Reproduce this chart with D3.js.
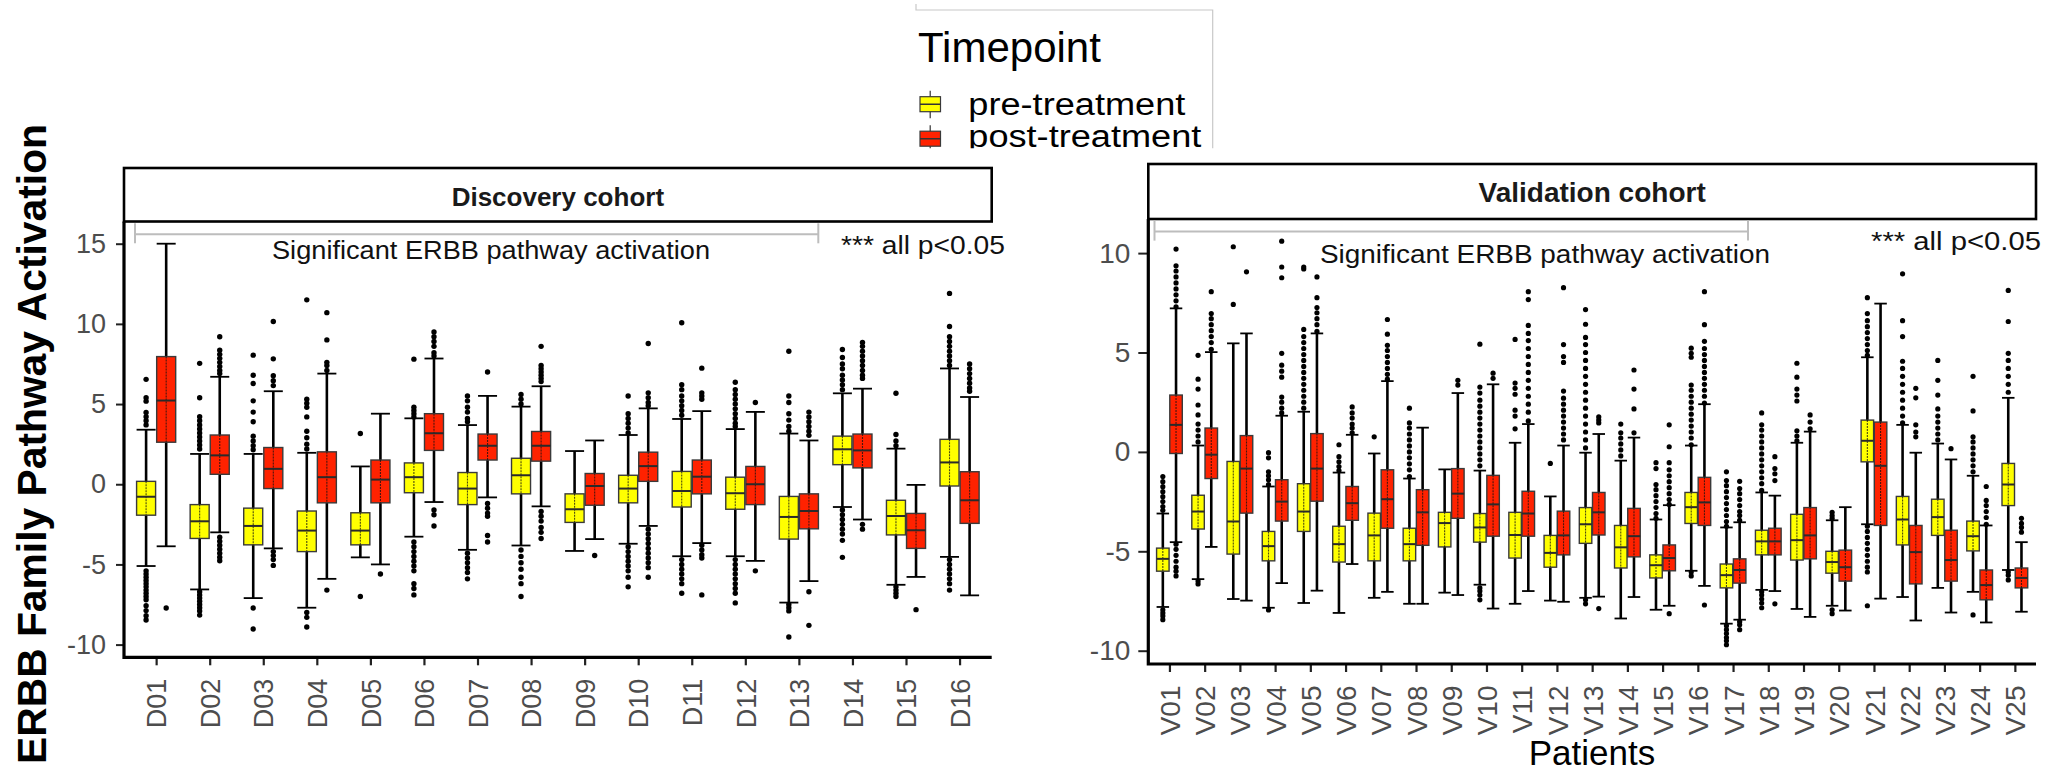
<!DOCTYPE html>
<html>
<head>
<meta charset="utf-8">
<script src="https://cdn.jsdelivr.net/npm/d3@7"></script>
<style>
  html, body { margin: 0; padding: 0; background: #fff; }
  svg { display: block; font-family: "Liberation Sans", Arial, Helvetica, sans-serif; }
</style>
</head>
<body>
<svg id="chart" width="2047" height="774"></svg>
<script>
// ---------- categories & tick labels ----------
const discCats = ["D01","D02","D03","D04","D05","D06","D07","D08","D09","D10","D11","D12","D13","D14","D15","D16"];
const valCats = ["V01","V02","V03","V04","V05","V06","V07","V08","V09","V10","V11","V12","V13",
                 "V14","V15","V16","V17","V18","V19","V20","V21","V22","V23","V24","V25"];
const discYTicks = [-10, -5, 0, 5, 10, 15];
const valYTicks = [-10, -5, 0, 5, 10];
const timepoints = ["pre-treatment", "post-treatment"];

// ---------- box statistics: [whisker low, Q1, median, Q3, whisker high] ----------
const discPre = [
  [-5.1,-1.93,-0.78,0.18,3.4], [-6.56,-3.38,-2.31,-1.27,1.89], [-7.1,-3.78,-2.6,-1.49,1.89],
  [-7.7,-4.2,-2.89,-1.67,1.96], [-4.56,-3.78,-2.89,-1.78,1.11], [-3.27,-0.53,0.44,1.33,4.11],
  [-4.09,-1.27,-0.27,0.73,3.69], [-3.82,-0.6,0.56,1.62,4.84], [-4.16,-2.38,-1.56,-0.6,2.07],
  [-3.71,-1.16,-0.27,0.56,3.07], [-4.49,-1.42,-0.42,0.8,4.07], [-4.49,-1.56,-0.56,0.44,3.44],
  [-7.38,-3.42,-2.04,-0.76,3.16], [-1.42,1.22,2.18,3.0,5.67], [-6.27,-3.16,-1.98,-1.0,2.22],
  [-4.53,-0.11,1.36,2.8,7.22]
];
const discPost = [
  [-3.87,2.62,5.22,7.96,15.0], [-3.0,0.62,1.8,3.07,6.7], [-4.0,-0.27,0.96,2.29,5.8],
  [-5.9,-1.16,0.44,2.02,6.9], [-5.0,-1.16,0.29,1.51,4.4], [-1.11,2.11,3.18,4.4,7.84],
  [-0.82,1.51,2.4,3.13,5.51], [-1.38,1.44,2.4,3.29,6.11], [-3.42,-1.31,-0.11,0.67,2.73],
  [-2.6,0.18,1.13,2.0,4.73], [-3.67,-0.6,0.47,1.51,4.56], [-4.78,-1.27,0.0,1.11,4.51],
  [-6.04,-2.78,-1.67,-0.6,2.73], [-2.2,1.02,2.11,3.13,5.96], [-5.78,-4.0,-2.87,-1.82,-0.04],
  [-6.93,-2.44,-1.0,0.78,5.44]
];
const valPre = [
  [-7.8,-6.0,-5.38,-4.84,-3.1], [-6.4,-3.88,-3.0,-2.18,0.32], [-7.4,-5.14,-3.5,-0.48,5.46],
  [-7.84,-5.48,-4.74,-4.0,-1.74], [-7.6,-4.0,-3.0,-1.6,2.02], [-8.1,-5.54,-4.64,-3.74,-1.04],
  [-7.34,-5.48,-4.2,-3.08,-0.08], [-7.64,-5.48,-4.64,-3.84,-1.34], [-7.08,-4.78,-3.58,-3.04,-0.88],
  [-6.68,-4.54,-3.8,-3.1,-0.94], [-7.64,-5.34,-4.18,-3.04,0.46], [-7.48,-5.8,-5.08,-4.2,-2.24],
  [-7.34,-4.6,-3.64,-2.8,-0.04], [-8.38,-5.84,-4.8,-3.7,-0.44], [-7.94,-6.34,-5.7,-5.18,-3.4],
  [-5.98,-3.6,-2.78,-2.04,0.32], [-8.64,-6.84,-6.2,-5.64,-3.8], [-6.94,-5.18,-4.5,-3.94,-2.04],
  [-7.9,-5.44,-4.44,-3.14,0.46], [-7.74,-6.1,-5.54,-5.0,-3.44], [-3.64,-0.5,0.56,1.6,4.76],
  [-7.3,-4.68,-3.4,-2.24,1.36], [-6.84,-4.2,-3.28,-2.38,0.42], [-7.04,-4.98,-4.24,-3.48,-1.2],
  [-5.94,-2.7,-1.64,-0.58,2.72]
];
const valPost = [
  [-4.54,-0.08,1.36,2.86,7.22], [-4.78,-1.34,-0.14,1.2,5.02], [-7.48,-3.08,-0.84,0.82,5.96],
  [-6.6,-3.48,-2.5,-1.4,1.82], [-6.98,-2.48,-0.84,0.92,5.96], [-5.64,-3.44,-2.58,-1.74,0.86],
  [-7.04,-3.84,-2.38,-0.9,3.56], [-7.64,-4.7,-3.04,-1.9,1.22], [-7.2,-3.34,-2.1,-0.84,2.96],
  [-7.88,-4.24,-2.64,-1.18,3.4], [-7.0,-4.24,-3.1,-1.98,1.4], [-7.54,-5.18,-4.2,-2.98,0.32],
  [-7.28,-4.18,-3.04,-2.04,0.9], [-7.3,-5.28,-4.24,-2.84,0.72], [-7.74,-5.98,-5.34,-4.68,-2.68],
  [-6.74,-3.7,-2.54,-1.28,2.4], [-8.44,-6.6,-5.94,-5.38,-3.54], [-7.0,-5.18,-4.5,-3.84,-2.2],
  [-8.3,-5.38,-4.2,-2.8,1.02], [-7.98,-6.5,-5.8,-4.94,-2.78], [-7.38,-3.7,-0.7,1.5,7.46],
  [-8.48,-6.64,-5.04,-3.7,-0.04], [-8.08,-6.5,-5.44,-3.94,-0.38], [-8.58,-7.44,-6.7,-5.94,-3.7],
  [-8.04,-6.84,-6.34,-5.84,-4.54]
];

// ---------- outlying values per patient ----------
const discPreOut = [
  [6.54,5.39,5.18,4.48,4.21,3.96,3.7,-5.4,-5.6,-5.8,-6.0,-6.2,-6.4,-6.6,-6.8,-7.0,-7.2,-7.57,-7.88,-8.2,-8.47],
  [7.54,5.39,4.21,3.96,3.7,3.45,3.2,2.95,2.7,2.45,2.2,-6.7,-6.9,-7.1,-7.3,-7.5,-7.7,-7.9,-8.16],
  [8.05,6.8,6.28,5.2,4.5,3.9,3.0,2.7,2.4,2.15,-7.72,-9.03],
  [11.5,5.3,5.05,4.8,4.2,3.3,2.9,2.5,2.2,-8.0,-8.3,-8.9],
  [3.16,-7.0],
  [7.8,4.8,4.6,4.4,4.2,-3.6,-3.9,-4.2,-4.5,-4.8,-5.1,-5.4,-6.2,-6.5,-6.9],
  [5.5,5.2,4.8,4.5,4.1,3.9,-4.3,-4.6,-4.9,-5.2,-5.5,-5.9],
  [5.6,5.3,5.0,-4.1,-4.5,-4.9,-5.3,-5.8,-6.2,-7.0],
  [],
  [5.5,4.4,4.1,3.8,3.5,3.2,-3.9,-4.2,-4.5,-4.8,-5.1,-5.4,-5.8,-6.4],
  [10.07,6.2,5.9,5.5,5.2,4.9,4.6,4.3,-4.7,-5.0,-5.3,-5.6,-5.9,-6.2,-6.8],
  [6.36,5.9,5.6,5.3,5.0,4.7,4.4,4.1,3.8,3.6,-4.7,-5.0,-5.3,-5.6,-5.9,-6.2,-6.5,-6.8,-7.4],
  [8.29,5.5,5.1,4.4,4.0,3.6,3.3,-7.5,-7.7,-7.9,-9.53],
  [8.4,7.9,7.5,7.2,6.8,6.5,6.2,5.9,-1.6,-1.9,-2.2,-2.5,-2.8,-3.1,-3.5,-4.56],
  [5.67,3.1,2.7,2.4,-6.4,-6.6,-6.8,-7.0],
  [11.9,9.84,9.2,8.9,8.6,8.3,8.0,7.7,7.4,-4.7,-5.0,-5.3,-5.6,-5.9,-6.2,-6.6]
];
const discPostOut = [
  [-7.72],
  [9.2,8.36,8.1,7.85,7.6,7.35,7.1,6.9,-3.3,-3.55,-3.8,-4.05,-4.3,-4.55,-4.77],
  [10.15,7.82,6.77,6.46,6.15,-4.2,-4.45,-4.7,-5.06],
  [10.7,9.0,7.6,7.4,7.1,-6.6],
  [-5.6],
  [9.5,9.2,8.9,8.6,8.2,8.0,-1.6,-1.9,-2.6],
  [7.0,-1.2,-1.5,-1.8,-2.0,-3.2,-3.6],
  [8.6,7.4,7.2,7.0,6.8,6.6,6.4,-1.7,-2.0,-2.3,-2.7,-3.0,-3.38],
  [-4.44],
  [8.78,5.7,5.4,5.1,4.9,-2.8,-3.1,-3.4,-3.7,-4.0,-4.3,-4.6,-4.9,-5.2,-5.8],
  [7.24,5.7,5.5,5.3,-3.8,-4.1,-4.4,-4.6,-6.9],
  [5.1,-5.4],
  [4.5,4.2,3.9,3.6,3.3,3.05,-6.7,-8.8],
  [8.84,8.6,8.3,8.0,7.7,7.4,7.1,6.8,6.6,-2.5,-2.8],
  [-7.82],
  [7.5,7.2,6.9,6.6,6.3,6.0,5.8]
];
const valPreOut = [
  [-1.24,-1.5,-1.75,-2.0,-2.25,-2.5,-2.75,-2.94,-7.94,-8.1,-8.25,-8.44],
  [4.86,3.66,3.16,2.36,1.86,1.4,1.1,0.8,0.5,-6.5,-6.64],
  [10.32,7.42],
  [-0.04,-0.3,-1.0,-1.2,-1.4,-1.64,-7.95],
  [9.3,9.2,6.16,5.8,5.5,5.2,4.9,4.6,4.3,4.0,3.7,3.4,3.1,2.8,2.5,2.2],
  [0.36,-0.24,-0.5,-0.74,-0.94],
  [0.76],
  [2.2,1.46,1.2,0.9,0.6,0.3,0.0,-0.3,-0.6,-0.9,-1.24],
  [],
  [5.42,3.26,2.96,2.6,2.3,2.0,1.7,1.4,1.1,0.8,0.5,0.2,-0.1,-0.4,-0.7,-6.84,-7.0,-7.2,-7.44],
  [5.66,3.46,3.2,2.9,2.1,1.8,1.16],
  [-0.58],
  [7.16,6.42,5.76,5.4,5.0,4.6,4.2,3.8,3.4,3.0,2.6,2.2,1.8,1.4,1.0,0.6,0.2,-7.44,-7.64],
  [1.4,0.96,0.7,0.4,0.1,-0.2],
  [-0.54,-0.84,-1.64,-1.9,-2.2,-2.5,-2.8,-3.1,-3.34],
  [5.22,4.96,4.76,3.36,3.1,2.8,2.5,2.2,1.9,1.6,1.3,1.0,0.7,0.36,-6.04,-6.24],
  [-1.0,-1.44,-1.7,-2.0,-2.3,-2.6,-2.9,-3.2,-3.5,-3.74,-8.74,-8.94,-9.14,-9.34,-9.5,-9.7],
  [1.96,1.36,1.1,0.8,0.5,0.2,-0.1,-0.4,-0.7,-1.0,-1.3,-1.6,-1.94,-7.04,-7.2,-7.4,-7.6,-7.84],
  [4.46,3.76,3.16,2.86,2.56,1.06,0.8,0.56],
  [-3.04,-3.2,-3.34,-7.94,-8.14],
  [7.76,6.96,6.6,6.3,6.0,5.7,5.4,5.1,4.86,-3.74,-4.0,-4.3,-4.6,-4.9,-5.2,-5.5,-5.8,-6.04,-7.74],
  [8.96,6.6,5.8,4.56,4.2,3.8,3.4,3.0,2.6,2.2,1.8,1.46],
  [4.6,3.6,2.86,2.16,1.8,1.5,1.2,0.9,0.6],
  [3.8,2.06,0.76,0.5,0.2,-0.1,-0.4,-0.7,-1.0,-8.2],
  [8.12,6.56,4.96,4.6,4.2,3.8,3.4,3.0,-6.04,-6.2,-6.44]
];
const valPostOut = [
  [10.2,9.36,9.1,8.8,8.5,8.2,7.9,7.6,7.3,-4.64,-4.9,-5.2,-5.5,-5.8,-6.0,-6.24],
  [8.06,6.96,6.7,6.4,6.1,5.8,5.5,5.16],
  [9.06],
  [10.6,9.3,8.76,4.96,4.36,4.06,3.76,2.76,2.5,2.2,1.96],
  [8.8,7.76,7.26,7.0,6.7,6.4,6.06],
  [2.26,1.96,1.7,1.4,1.2,0.96],
  [6.66,5.92,5.36,5.1,4.8,4.5,4.2,3.9,3.66],
  [],
  [3.6,3.36],
  [3.96,3.7],
  [8.06,7.66,6.36,5.96,5.6,5.2,4.8,4.4,4.0,3.6,3.2,2.8,2.4,2.0,1.56],
  [8.26,5.4,4.8,4.5,3.06,2.7,2.4,2.1,1.8,1.5,1.2,0.9,0.6],
  [1.76,1.6,1.46,-7.88],
  [4.12,3.16,2.16,0.96],
  [1.36,0.26,-0.54,-0.9,-1.2,-1.5,-1.8,-2.1,-2.4,-2.64,-8.14],
  [8.06,6.4,5.56,5.2,4.9,4.6,4.3,4.0,3.7,3.4,3.1,2.8,2.46,-7.7],
  [-1.48,-1.84,-2.1,-2.4,-2.7,-3.0,-3.2,-3.44,-8.54,-8.7,-8.94],
  [-0.24,-0.84,-1.1,-1.44,-7.64],
  [1.86,1.5,1.16],
  [],
  [],
  [3.2,2.72,1.36,1.0,0.76],
  [0.16],
  [-1.74,-2.44,-2.7,-3.0,-3.3,-3.64],
  [-3.34,-3.6,-3.8,-4.04]
];

// ---------- drawing ----------
const FILL = { "pre-treatment": "#ffff00", "post-treatment": "#ff2200" };
const TICK_GREY = "#4d4d4d";

const svg = d3.select("#chart");
svg.append("rect").attr("width", 2047).attr("height", 774).attr("fill", "#fff");

function drawPanel(p) {
  const g = svg.append("g");
  const x = d3.scalePoint().domain(p.cats).range([p.left, p.right]).padding(0.6);
  const y = d3.scaleLinear().domain(p.yDomain).range(p.yRange);
  const step = x.step();
  const bw = step * 0.355;
  const off = step * 0.1875;

  // facet strip
  g.append("rect")
    .attr("x", p.left).attr("y", p.stripTop)
    .attr("width", p.right - p.left).attr("height", p.top - p.stripTop)
    .attr("fill", "#fff").attr("stroke", "#000").attr("stroke-width", 2.6);
  g.append("text")
    .attr("x", (p.left + p.right) / 2).attr("y", p.stripBase)
    .attr("text-anchor", "middle").attr("font-weight", "bold")
    .attr("font-size", p.stripSize).attr("fill", "#1a1a1a")
    .text(p.title);

  // significance bracket and notes
  const br = g.append("g").attr("stroke", "#bdbdbd").attr("stroke-width", 2).attr("fill", "none");
  br.append("line").attr("x1", p.brX0).attr("x2", p.brX1).attr("y1", p.brY).attr("y2", p.brY);
  br.append("line").attr("x1", p.brX0).attr("x2", p.brX0).attr("y1", p.brY - 11).attr("y2", p.brY + 9);
  br.append("line").attr("x1", p.brX1).attr("x2", p.brX1).attr("y1", p.brY - 11).attr("y2", p.brY + 9);
  g.append("text").attr("x", p.sigX).attr("y", p.sigY)
    .attr("font-size", p.noteSize).attr("fill", "#111")
    .attr("textLength", p.sigLen).attr("lengthAdjust", "spacingAndGlyphs")
    .text("Significant ERBB pathway  activation");
  g.append("text").attr("x", p.pX).attr("y", p.pY)
    .attr("font-size", p.noteSize).attr("fill", "#111")
    .attr("textLength", p.pLen).attr("lengthAdjust", "spacingAndGlyphs")
    .text("*** all p<0.05");

  // axes
  const yAxis = g.append("g").attr("transform", `translate(${p.left},0)`)
    .call(d3.axisLeft(y).tickValues(p.yTicks).tickFormat(d => String(d)).tickSize(p.yTickSize).tickPadding(p.yTickPad));
  yAxis.select(".domain").remove();
  yAxis.selectAll(".tick line").attr("stroke", "#222").attr("stroke-width", 2);
  yAxis.selectAll(".tick text").attr("font-size", p.tickSize).attr("fill", TICK_GREY)
    .attr("font-family", "'Liberation Sans', Arial, sans-serif");

  const xAxis = g.append("g").attr("transform", `translate(0,${p.bottom})`)
    .call(d3.axisBottom(x).tickSize(8));
  xAxis.select(".domain").remove();
  xAxis.selectAll(".tick line").attr("stroke", "#222").attr("stroke-width", 2.2);
  xAxis.selectAll(".tick text")
    .attr("transform", "rotate(-90)")
    .attr("x", -21.5).attr("y", 0).attr("dy", "0.36em")
    .attr("text-anchor", "end")
    .attr("font-size", p.tickSize).attr("fill", TICK_GREY)
    .attr("font-family", "'Liberation Sans', Arial, sans-serif");

  g.append("path")
    .attr("d", `M${p.left},${p.top} V${p.bottom} H${p.right}`)
    .attr("fill", "none").attr("stroke", "#000").attr("stroke-width", 3.2);

  // boxplots
  const series = [
    { key: "pre-treatment", stats: p.pre, outs: p.preOut, dx: -off },
    { key: "post-treatment", stats: p.post, outs: p.postOut, dx: off }
  ];
  series.forEach(s => {
    const sg = g.append("g");
    p.cats.forEach((c, i) => {
      const [lo, q1, med, q3, hi] = s.stats[i];
      const cx = x(c) + s.dx;
      const bg = sg.append("g");
      // whisker
      bg.append("line").attr("x1", cx).attr("x2", cx).attr("y1", y(hi)).attr("y2", y(lo))
        .attr("stroke", "#000").attr("stroke-width", 2.6);
      // caps
      [lo, hi].forEach(v => {
        bg.append("line").attr("x1", cx - bw / 2).attr("x2", cx + bw / 2)
          .attr("y1", y(v)).attr("y2", y(v))
          .attr("stroke", "#000").attr("stroke-width", 1.8);
      });
      // box
      bg.append("rect").attr("x", cx - bw / 2).attr("y", y(q3))
        .attr("width", bw).attr("height", y(q1) - y(q3))
        .attr("fill", FILL[s.key]).attr("stroke", "#3a3a3a").attr("stroke-width", 1.4);
      // individual values running through the box
      bg.append("line").attr("x1", cx).attr("x2", cx).attr("y1", y(q3)).attr("y2", y(q1))
        .attr("stroke", "#111").attr("stroke-width", 1.1).attr("stroke-dasharray", "2,1").attr("opacity", 0.75);
      // median
      bg.append("line").attr("x1", cx - bw / 2).attr("x2", cx + bw / 2)
        .attr("y1", y(med)).attr("y2", y(med))
        .attr("stroke", "#2a2a2a").attr("stroke-width", 2);
      // outliers
      bg.selectAll("circle").data(s.outs[i]).join("circle")
        .attr("cx", cx).attr("cy", v => y(v)).attr("r", p.dotR).attr("fill", "#000");
    });
  });
}

drawPanel({
  title: "Discovery cohort", cats: discCats, pre: discPre, post: discPost,
  preOut: discPreOut, postOut: discPostOut,
  left: 124, right: 991.7, top: 221.5, bottom: 657.3, stripTop: 168, stripBase: 205.5, stripSize: 26,
  yDomain: [-10, 15], yRange: [644.6, 243.7], yTicks: discYTicks, yTickSize: 8, yTickPad: 10,
  tickSize: 27, dotR: 2.7,
  brX0: 135, brX1: 818.3, brY: 234.3,
  sigX: 272, sigY: 259.3, sigLen: 438, pX: 841, pY: 253.6, pLen: 164, noteSize: 25
});

drawPanel({
  title: "Validation cohort", cats: valCats, pre: valPre, post: valPost,
  preOut: valPreOut, postOut: valPostOut,
  left: 1148.3, right: 2036, top: 219, bottom: 664, stripTop: 164, stripBase: 201.7, stripSize: 28,
  yDomain: [-10, 10], yRange: [650.7, 253.1], yTicks: valYTicks, yTickSize: 10, yTickPad: 8,
  tickSize: 28, dotR: 2.6,
  brX0: 1154.5, brX1: 1748, brY: 231.6,
  sigX: 1320, sigY: 263.4, sigLen: 450, pX: 1871, pY: 249.5, pLen: 170, noteSize: 26.5
});

// shared y title
svg.append("text")
  .attr("transform", "translate(46,444) rotate(-90)")
  .attr("text-anchor", "middle").attr("font-weight", "bold").attr("font-size", 40)
  .attr("textLength", 640).attr("lengthAdjust", "spacingAndGlyphs")
  .attr("fill", "#000")
  .text("ERBB Family Pathway Activation");

// x title of the validation panel
svg.append("text")
  .attr("x", 1592).attr("y", 765).attr("text-anchor", "middle")
  .attr("font-size", 35).attr("fill", "#000")
  .text("Patients");

// ---------- legend ----------
const leg = svg.append("g");
leg.append("clipPath").attr("id", "legClip")
  .append("rect").attr("x", 910).attr("y", 0).attr("width", 310).attr("height", 148.3);
const legBody = leg.append("g").attr("clip-path", "url(#legClip)");
legBody.append("rect").attr("x", 916).attr("y", 10).attr("width", 297).attr("height", 140).attr("fill", "#fff");
leg.append("path").attr("d", "M916,4 V10 H1212.7 V148.3")
  .attr("fill", "none").attr("stroke", "#c8c8c8").attr("stroke-width", 1.2);
legBody.append("text").attr("x", 918).attr("y", 61.7).attr("font-size", 42).attr("fill", "#000").text("Timepoint");
const keyRows = [{ y: 104.2, label: timepoints[0], len: 217 }, { y: 138.7, label: timepoints[1], len: 233 }];
keyRows.forEach((r, i) => {
  const kg = legBody.append("g");
  kg.append("line").attr("x1", 930.2).attr("x2", 930.2).attr("y1", r.y - 13.5).attr("y2", r.y + 14)
    .attr("stroke", "#333").attr("stroke-width", 1.2);
  kg.append("rect").attr("x", 920).attr("y", r.y - 7.5).attr("width", 20.5).attr("height", 15)
    .attr("fill", FILL[r.label]).attr("stroke", "#3a3a3a").attr("stroke-width", 1.2);
  kg.append("line").attr("x1", 920).attr("x2", 940.5).attr("y1", r.y).attr("y2", r.y)
    .attr("stroke", "#333").attr("stroke-width", 1.4);
  kg.append("text").attr("x", 968.3).attr("y", r.y + 10.8 + (i === 1 ? -2.1 : 0))
    .attr("font-size", 31).attr("fill", "#000")
    .attr("textLength", r.len).attr("lengthAdjust", "spacingAndGlyphs")
    .text(r.label);
});
</script>
</body>
</html>
